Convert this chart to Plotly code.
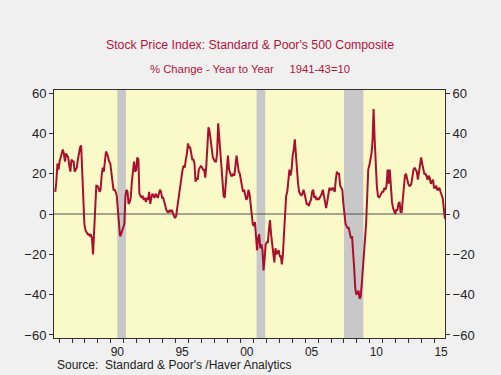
import plotly.graph_objects as go
import pandas as pd

# Monthly S&P 500 % change, year to year (Aug 1985 - Oct 2015)
sp500_yoy = [
    11, 16, 25, 22, 26,                                   # 1985 Aug-Dec
    28, 31, 32, 30, 26, 30, 29, 28, 24, 21, 27, 26,       # 1986
    26, 21, 22, 23, 27, 31, 33, 34, 18, 1, -5, -8,        # 1987
    -9, -10, -10, -11, -10, -12, -20, -8, 5, 14, 14, 13,  # 1988
    11, 12, 19, 23, 21, 27, 31, 30, 27, 26, 25, 21,       # 1989
    15, 12, 12, 11, 9, 2, -6, -11, -10, -8, -6, -5,       # 1990
    9, 12, 11, 5, 6, 8, 16, 22, 26, 21, 22, 28,           # 1991
    27, 10, 9, 8, 9, 7, 8, 6, 8, 7, 11, 5,                # 1992
    8, 10, 9, 8, 10, 9, 8, 10, 12, 11, 8, 8,              # 1993
    6, 3, 2, 1, 1, 2, 1, 2, 0, -1, -2, -1,                # 1994
    3, 7, 12, 15, 18, 22, 24, 23, 27, 30, 35, 33,         # 1995
    33, 30, 27, 27, 25, 16, 18, 17, 22, 23, 24, 23,       # 1996
    22, 22, 18, 24, 35, 43, 41, 37, 33, 28, 27, 26,       # 1997
    26, 30, 45, 38, 32, 24, 19, 9, 8, 16, 22, 29,         # 1998
    22, 20, 19, 19, 20, 19, 24, 29, 25, 21, 20, 17,       # 1999
    13, 11, 12, 10, 7, 8, 12, 10, 6, 0, -5, -6,           # 2000
    -4, -10, -18, -12, -10, -17, -15, -18, -28, -22, -15, -14,  # 2001
    -14, -8, -3, -10, -14, -20, -24, -17, -20, -19, -18, -21,   # 2002
    -21, -25, -20, -10, 2, 9, 11, 18, 22, 19, 22, 29,     # 2003
    32, 37, 30, 20, 15, 11, 10, 9, 10, 12, 10, 7,         # 2004
    5, 5, 4, 6, 7, 11, 12, 8, 9, 7, 8, 7,                 # 2005
    8, 9, 10, 12, 9, 5, 3, 6, 9, 13, 12, 12,              # 2006
    13, 12, 11, 17, 21, 20, 20, 14, 13, 12, 5, 0,         # 2007
    -5, -6, -7, -7, -9, -12, -11, -18, -27, -37, -40, -39,      # 2008
    -38, -42, -41, -35, -28, -20, -15, -5, 8, 22, 24, 27,       # 2009
    30, 36, 52, 37, 22, 14, 9, 8, 9, 10, 11, 11,          # 2010
    13, 12, 14, 22, 15, 22, 12, 6, 3, 1, 0, 2,            # 2011
    2, 5, 6, 1, 1, 7, 12, 19, 20, 17, 15, 14,             # 2012
    14, 15, 20, 22, 23, 22, 21, 17, 20, 23, 28, 25,       # 2013
    23, 20, 20, 19, 17, 19, 18, 15, 16, 17, 13, 13,       # 2014
    14, 12, 12, 13, 11, 9, 8, 3, -2, -2.5,                # 2015 Jan-Oct
]
months = pd.date_range("1985-08-15", periods=len(sp500_yoy), freq="MS") + pd.Timedelta(days=14)

recession_starts = ["1990-07-01", "2001-04-01", "2008-01-01"]
recession_ends = ["1991-03-01", "2001-12-01", "2009-07-01"]

y_ticks = [60, 40, 20, 0, -20, -40, -60]
x_label_dates = ["1990-07-01", "1995-07-01", "2000-07-01", "2005-07-01", "2010-07-01", "2015-07-01"]
x_labels = ["90", "95", "00", "05", "10", "15"]

title_text = "Stock Price Index: Standard &amp; Poor's 500 Composite"
subtitle_text = "% Change - Year to Year\u00a0\u00a0\u00a0\u00a0 1941-43=10"
source_text = "Source:\u00a0 Standard &amp; Poor's /Haver Analytics"

LINE = "#A8102E"
TEXT_RED = "#B4143C"
FONT = "Liberation Sans, Arial, sans-serif"
AXIS = "#303030"
YR = [-61.5, 61.5]
XR = ["1985-08-10", "2015-10-20"]

fig = go.Figure()
fig.add_trace(go.Scatter(x=months, y=sp500_yoy, mode="lines",
                         line=dict(color=LINE, width=2), hoverinfo="skip",
                         showlegend=False))
fig.add_trace(go.Scatter(x=months, y=sp500_yoy, mode="lines", yaxis="y2",
                         line=dict(color="rgba(0,0,0,0)", width=0), hoverinfo="skip",
                         showlegend=False))

for s, e in zip(recession_starts, recession_ends):
    fig.add_shape(type="rect", xref="x", yref="y domain", x0=s, x1=e, y0=0, y1=1,
                  fillcolor="#C8C8C8", line=dict(width=0), layer="below")

fig.add_shape(type="line", xref="x domain", yref="y", x0=0, x1=1, y0=0, y1=0,
              line=dict(color="#505050", width=1), layer="below")

fig.update_layout(
    width=501, height=375,
    margin=dict(l=54, r=56, t=90, b=37),
    paper_bgcolor="#F0F0F0", plot_bgcolor="#FAFAC8",
    font=dict(family=FONT, size=12, color="#222222"),
    xaxis=dict(type="date", range=XR, showgrid=False, zeroline=False,
               showline=True, linecolor=AXIS, linewidth=1, mirror=True,
               tickmode="array", tickvals=x_label_dates, ticktext=x_labels,
               ticks="outside", ticklen=3, tickcolor="rgba(0,0,0,0)",
               tickfont=dict(size=12, color="#222222"),
               minor=dict(tickmode="linear", tick0="1986-01-01", dtick="M12",
                          ticks="outside", ticklen=4, tickcolor=AXIS, showgrid=False)),
    yaxis=dict(range=YR, showgrid=False, zeroline=False,
               showline=True, linecolor=AXIS, linewidth=1, mirror=True,
               tickmode="array", tickvals=y_ticks, ticks="outside", ticklen=4,
               tickcolor=AXIS, tickfont=dict(size=13, color="#222222")),
    yaxis2=dict(range=YR, overlaying="y", side="right", showgrid=False, zeroline=False,
                showline=False, tickmode="array", tickvals=y_ticks, ticks="outside",
                ticklen=4, tickcolor=AXIS, tickfont=dict(size=13, color="#222222")),
    annotations=[
        dict(text=title_text, xref="paper", yref="paper", x=0.5, y=(338 - 45) / 248,
             xanchor="center", yanchor="middle", showarrow=False,
             font=dict(size=12.3, color=TEXT_RED, family=FONT)),
        dict(text=subtitle_text, xref="paper", yref="paper", x=0.5, y=(338 - 69) / 248,
             xanchor="center", yanchor="middle", showarrow=False,
             font=dict(size=11.3, color=TEXT_RED, family=FONT)),
        dict(text=source_text, xref="paper", yref="paper", x=0.0, y=(338 - 365) / 248,
             xanchor="left", yanchor="middle", showarrow=False, xshift=1,
             font=dict(size=12, color="#222222", family=FONT)),
    ],
)

fig.write_html("out.html", config={"displayModeBar": False},
               post_script="document.body.style.margin='0';document.body.style.padding='0';")
